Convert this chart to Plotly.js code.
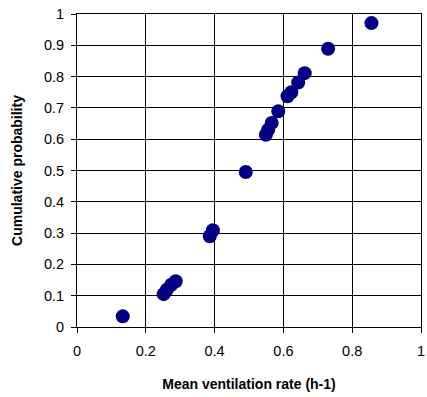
<!DOCTYPE html>
<html><head><meta charset="utf-8">
<script src="https://cdn.plot.ly/plotly-3.0.1.min.js"></script>
<style>html,body{margin:0;padding:0;background:#fff}#chart{width:427px;height:397px}</style>
</head><body><div id="chart"></div>
<script>
var ventilationRate = [0.133, 0.252, 0.261, 0.274, 0.287, 0.386, 0.395, 0.4905, 0.549, 0.556, 0.566, 0.585, 0.612, 0.623, 0.643, 0.662, 0.730, 0.856];
var cumulativeProb = [0.034, 0.105, 0.119, 0.135, 0.146, 0.290, 0.309, 0.495, 0.614, 0.630, 0.652, 0.689, 0.737, 0.750, 0.781, 0.811, 0.889, 0.971];
var xTicks = [0, 0.2, 0.4, 0.6, 0.8, 1];
var yTicks = [0, 0.1, 0.2, 0.3, 0.4, 0.5, 0.6, 0.7, 0.8, 0.9, 1];

var trace = {
  x: ventilationRate, y: cumulativeProb, type: 'scatter', mode: 'markers',
  marker: {color: '#000080', size: 14}
};
var ff = 'Liberation Sans, Arial, sans-serif';
var font = {family: ff, size: 14.5, color: '#000'};
var titleFont = {family: ff, size: 14, color: '#000', weight: 'bold'};
var layout = {
  width: 427, height: 397,
  margin: {l: 77, r: 6, t: 14, b: 70},
  paper_bgcolor: '#fff', plot_bgcolor: '#fff',
  showlegend: false,
  font: font,
  xaxis: {
    range: [0, 1], tickvals: xTicks, ticktext: xTicks.map(String),
    showgrid: true, gridcolor: '#000', gridwidth: 1,
    zeroline: false, showline: true, linecolor: '#000', linewidth: 1, mirror: true,
    ticks: 'outside', ticklen: 5, tickcolor: '#000', ticklabelstandoff: 6,
    tickfont: font,
    title: {text: 'Mean ventilation rate (h-1)', font: titleFont, standoff: 20}
  },
  yaxis: {
    range: [0, 1], tickvals: yTicks, ticktext: yTicks.map(String),
    showgrid: true, gridcolor: '#000', gridwidth: 1,
    zeroline: false, showline: true, linecolor: '#000', linewidth: 1, mirror: true,
    ticks: 'outside', ticklen: 5, tickcolor: '#000', ticklabelstandoff: 4,
    tickfont: font,
    title: {text: 'Cumulative probability', font: titleFont, standoff: 18}
  }
};
Plotly.newPlot('chart', [trace], layout, {displayModeBar: false, staticPlot: true});
</script></body></html>
